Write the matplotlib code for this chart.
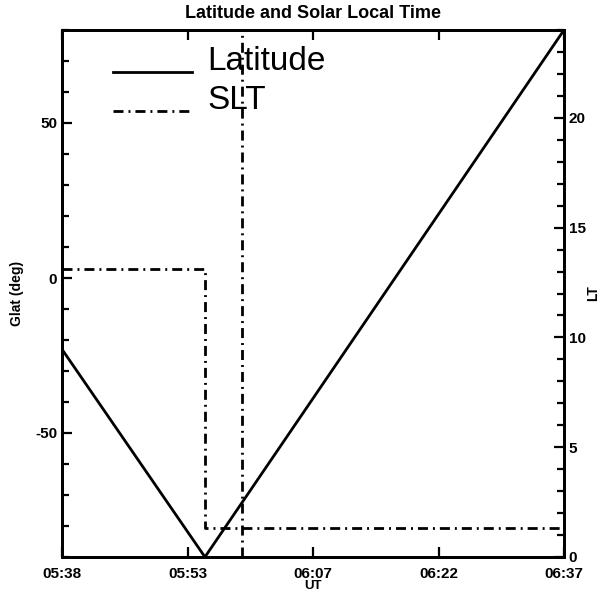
import numpy as np
import matplotlib.pyplot as plt
from matplotlib.legend_handler import HandlerLine2D
from matplotlib.ticker import MultipleLocator

plt.rcParams['font.family'] = ['Liberation Sans', 'DejaVu Sans']
plt.rcParams['axes.unicode_minus'] = False

# minutes after 05:38 UT
lat_minutes = [0.0, 16.8, 59.0]
glat_deg = [-23.0, -90.0, 80.0]

slt_minutes = [0.0, 16.8, 16.8, 59.0, np.nan, 21.2, 21.2]
slt_hours = [13.1, 13.1, 1.3, 1.3, np.nan, 0.0, 24.0]

ut_labels = ['05:38', '05:53', '06:07', '06:22', '06:37']

DASHDOT = (0, (3.6, 1.8, 0.7, 1.8))


class LowHandler(HandlerLine2D):
    """Legend sample drawn near the text baseline instead of its middle."""

    def create_artists(self, legend, orig_handle, xdescent, ydescent,
                       width, height, fontsize, trans):
        artists = super().create_artists(legend, orig_handle, xdescent,
                                         ydescent, width, height, fontsize,
                                         trans)
        for a in artists:
            a.set_ydata(np.asarray(a.get_ydata()) - 0.6 * height)
        return artists


def style_axis(ax):
    for side in ['left', 'right', 'top', 'bottom']:
        ax.spines[side].set_linewidth(2.0)
    ax.tick_params(which='both', direction='in', width=1.6, labelsize=11)
    ax.tick_params(which='major', length=7)
    ax.tick_params(which='minor', length=5)
    for lbl in ax.get_xticklabels() + ax.get_yticklabels():
        lbl.set_fontweight('bold')


fig = plt.figure(figsize=(6.02, 5.92), dpi=100)
ax = fig.add_axes([62 / 602, 1 - 557 / 592, 502 / 602, 527 / 592])

line_lat, = ax.plot(lat_minutes, glat_deg, color='black', lw=2.0,
                    label='Latitude')
ax.set_xlim(0, 59)
ax.set_ylim(-90, 80)
ax.set_xticks(np.linspace(0, 59, len(ut_labels)), labels=ut_labels)
ax.yaxis.set_major_locator(MultipleLocator(50))
ax.yaxis.set_minor_locator(MultipleLocator(10))
ax.xaxis.set_ticks_position('both')
ax.tick_params(axis='x', pad=7)
ax.set_xlabel('UT', fontsize=9.5, fontweight='bold', labelpad=-0.5)
ax.set_ylabel('Glat (deg)', fontsize=10, fontweight='bold', labelpad=8)
ax.set_title('Latitude and Solar Local Time', fontsize=13,
             fontweight='bold', pad=9)
style_axis(ax)

ax2 = ax.twinx()
line_slt, = ax2.plot(slt_minutes, slt_hours, color='black', lw=2.0,
                     linestyle=DASHDOT, label='SLT')
ax2.set_ylim(0, 24)
ax2.yaxis.set_major_locator(MultipleLocator(5))
ax2.yaxis.set_minor_locator(MultipleLocator(1))
ax2.set_ylabel('LT', fontsize=10, fontweight='bold', labelpad=0)
style_axis(ax2)
ax2.tick_params(axis='x', which='both', top=False, bottom=False)

ax.legend(handles=[line_lat, line_slt], loc='upper left',
          bbox_to_anchor=(51 / 502, 0.970), frameon=False, fontsize=24,
          handlelength=2.37, handletextpad=0.45, labelspacing=0.24,
          borderpad=0, borderaxespad=0,
          handler_map={line_lat: LowHandler(), line_slt: LowHandler()})

fig.savefig('out.png', dpi=100)
